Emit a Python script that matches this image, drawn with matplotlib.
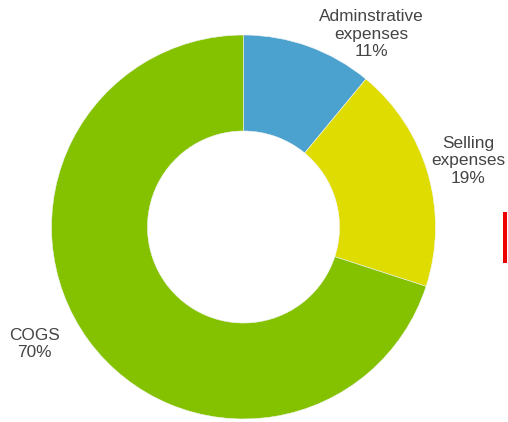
import numpy as np
import matplotlib.pyplot as plt
from matplotlib.patches import Rectangle

# cost breakdown
categories = ['Adminstrative\nexpenses', 'Selling\nexpenses', 'COGS']
shares = [11, 19, 70]
colors = ['#4ba2cf', '#dedc00', '#84c200']

# label anchor points (pixels, origin top-left)
label_xy = [(371, 34), (468, 161), (34, 344)]

W, H = 508, 422
fig = plt.figure(figsize=(W / 100, H / 100), dpi=100)
ax = fig.add_axes([0, 0, 1, 1])

cx, cy = 243.5, H - 227
R = 192

ax.pie(shares, colors=colors, startangle=90, counterclock=False,
       center=(cx, cy), radius=R, frame=True,
       wedgeprops=dict(width=R * 0.5, edgecolor='#f4f4f4', linewidth=0.4))
ax.set_xlim(0, W)
ax.set_ylim(0, H)
ax.set_aspect('equal')
ax.axis('off')

for (x, y), name, v in zip(label_xy, categories, shares):
    ax.text(x, H - y, f'{name}\n{v}%', ha='center', va='center',
            fontsize=12.4, color='#444444', family='Liberation Sans',
            linespacing=1.2)

# red marker at the right edge
ax.add_patch(Rectangle((503, H - 263), 4, 51, facecolor='#ee0000',
                       edgecolor='none'))

fig.savefig('out.png', dpi=100, facecolor='white')
